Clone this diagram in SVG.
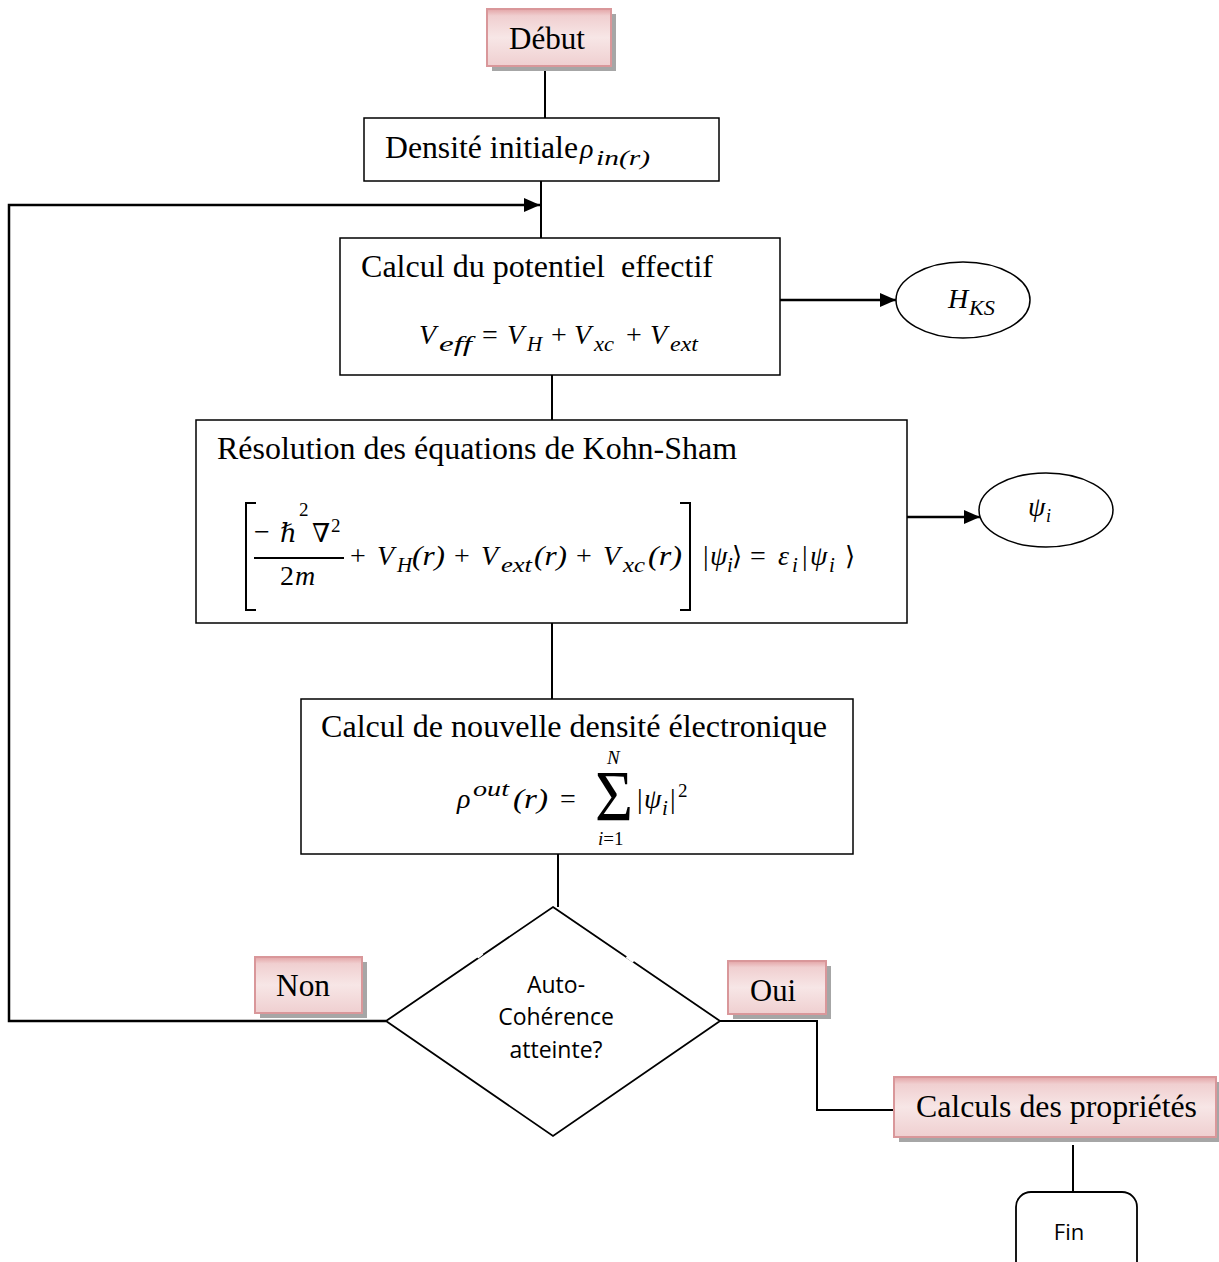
<svg xmlns="http://www.w3.org/2000/svg" width="1219" height="1262" viewBox="0 0 1219 1262">
<defs>
<linearGradient id="pink" x1="0" y1="0" x2="0" y2="1">
<stop offset="0" stop-color="#e3a4a6"/>
<stop offset="0.12" stop-color="#f0cfd0"/>
<stop offset="0.5" stop-color="#f7e6e6"/>
<stop offset="1" stop-color="#efcfd0"/>
</linearGradient>
<marker id="arr" viewBox="0 0 16 14" refX="16" refY="7" markerWidth="16" markerHeight="14" markerUnits="userSpaceOnUse" orient="auto">
<path d="M0,0 L16,7 L0,14 z" fill="#000"/>
</marker>
</defs>
<style>
.box{fill:#fff;stroke:#000;stroke-width:1.5}
.pk{fill:url(#pink);stroke:#d9979a;stroke-width:2}
.sh{fill:#a6a6a6}
.ln{fill:none;stroke:#000;stroke-width:2}
.t{font-family:"Liberation Serif","Times New Roman",serif;font-size:31px;fill:#000}
.m{font-family:"Liberation Serif","Times New Roman",serif;font-style:italic;font-size:28px;fill:#000}
.mr{font-family:"Liberation Serif","Times New Roman",serif;font-size:28px;fill:#000}
.sb{font-family:"Liberation Serif","Times New Roman",serif;font-style:italic;font-size:21px;fill:#000}
.sy{font-family:"DejaVu Serif","Liberation Serif",serif;font-size:26px;fill:#000}
.s{font-family:"Open Sans","Liberation Sans",sans-serif;font-size:23px;fill:#000}
</style>
<g id="connectors">
<path class="ln" d="M545,66 V118"/>
<path class="ln" d="M541,181 V238"/>
<path class="ln" d="M386,1021 H9 V205 H540" marker-end="url(#arr)" style="stroke-width:2.5"/>
<path class="ln" d="M780,300 H896" marker-end="url(#arr)" style="stroke-width:2.5"/>
<path class="ln" d="M552,375 V420"/>
<path class="ln" d="M907,517 H980" marker-end="url(#arr)" style="stroke-width:2.5"/>
<path class="ln" d="M552,623 V699"/>
<path class="ln" d="M558,854 V907"/>
<path class="ln" d="M720,1021 H817 V1110 H895"/>
<path class="ln" d="M1073,1145 V1192"/>
</g>
<g id="debut">
<rect class="sh" x="492" y="14" width="124" height="57"/>
<rect class="pk" x="487" y="9" width="124" height="57"/>
<text class="t" x="509" y="49" textLength="76" lengthAdjust="spacingAndGlyphs">Début</text>
</g>
<g id="densite">
<rect class="box" x="364" y="118" width="355" height="63"/>
<text class="t" x="385" y="158" textLength="193" lengthAdjust="spacingAndGlyphs">Densité initiale</text>
<text class="m" x="580" y="158">ρ</text>
<text class="sb" x="596" y="165" textLength="54" lengthAdjust="spacingAndGlyphs">in(r)</text>
</g>
<g id="potentiel">
<rect class="box" x="340" y="238" width="440" height="137"/>
<text class="t" x="361" y="277" textLength="352" lengthAdjust="spacingAndGlyphs" xml:space="preserve">Calcul du potentiel  effectif</text>
<text class="m" x="419" y="344">V</text>
<text class="sb" x="439" y="351" textLength="33" lengthAdjust="spacingAndGlyphs">eff</text>
<text class="mr" x="482" y="344">=</text>
<text class="m" x="507" y="344">V</text>
<text class="sb" x="527" y="351">H</text>
<text class="mr" x="551" y="344">+</text>
<text class="m" x="574" y="344">V</text>
<text class="sb" x="594" y="351" textLength="20" lengthAdjust="spacingAndGlyphs">xc</text>
<text class="mr" x="626" y="344">+</text>
<text class="m" x="650" y="344">V</text>
<text class="sb" x="670" y="351" textLength="28" lengthAdjust="spacingAndGlyphs">ext</text>
</g>
<g id="hks">
<ellipse cx="963" cy="300" rx="67" ry="38" fill="#fff" stroke="#000" stroke-width="1.5"/>
<text class="m" x="948" y="308">H</text>
<text class="sb" x="969" y="315" textLength="26" lengthAdjust="spacingAndGlyphs">KS</text>
</g>
<g id="kohnsham">
<rect class="box" x="196" y="420" width="711" height="203"/>
<text class="t" x="217" y="459" textLength="520" lengthAdjust="spacingAndGlyphs">Résolution des équations de Kohn-Sham</text>
<path class="ln" d="M256,503 H246 V610 H256"/>
<path class="ln" d="M680,503 H690 V610 H680"/>
<path d="M254,558 H344" stroke="#000" stroke-width="1.8"/>
<text class="mr" x="254" y="541">−</text>
<text class="sy" x="280" y="542" style="font-style:italic">ℏ</text>
<text class="mr" x="299" y="516" style="font-size:19px">2</text>
<text class="sy" x="312" y="542">∇</text>
<text class="mr" x="331" y="532" style="font-size:19px">2</text>
<text class="mr" x="280" y="585">2</text>
<text class="m" x="295" y="585">m</text>
<text class="mr" x="350" y="565">+</text>
<text class="m" x="377" y="565">V</text>
<text class="sb" x="397" y="572">H</text>
<text class="m" x="412" y="565" textLength="33" lengthAdjust="spacingAndGlyphs">(r)</text>
<text class="mr" x="454" y="565">+</text>
<text class="m" x="481" y="565">V</text>
<text class="sb" x="501" y="572" textLength="31" lengthAdjust="spacingAndGlyphs">ext</text>
<text class="m" x="534" y="565" textLength="33" lengthAdjust="spacingAndGlyphs">(r)</text>
<text class="mr" x="576" y="565">+</text>
<text class="m" x="603" y="565">V</text>
<text class="sb" x="623" y="572" textLength="22" lengthAdjust="spacingAndGlyphs">xc</text>
<text class="m" x="648" y="565" textLength="34" lengthAdjust="spacingAndGlyphs">(r)</text>
<text class="mr" x="703" y="565">|</text>
<text class="m" x="710" y="565">ψ</text>
<text class="sb" x="727" y="572">i</text>
<text class="sy" x="732" y="565">⟩</text>
<text class="mr" x="750" y="565">=</text>
<text class="m" x="778" y="565">ε</text>
<text class="sb" x="792" y="572">i</text>
<text class="mr" x="802" y="565">|</text>
<text class="m" x="810" y="565">ψ</text>
<text class="sb" x="829" y="572">i</text>
<text class="sy" x="845" y="565">⟩</text>
</g>
<g id="psi">
<ellipse cx="1046" cy="510" rx="67" ry="37" fill="#fff" stroke="#000" stroke-width="1.5"/>
<text class="m" x="1028" y="516">ψ</text>
<text class="sb" x="1046" y="522" style="font-size:18px">i</text>
</g>
<g id="nouvelle">
<rect class="box" x="301" y="699" width="552" height="155"/>
<text class="t" x="321" y="737" textLength="506" lengthAdjust="spacingAndGlyphs">Calcul de nouvelle densité électronique</text>
<text class="m" x="457" y="808">ρ</text>
<text class="sb" x="473" y="796" textLength="36" lengthAdjust="spacingAndGlyphs">out</text>
<text class="m" x="513" y="808" textLength="35" lengthAdjust="spacingAndGlyphs">(r)</text>
<text class="mr" x="560" y="808">=</text>
<text class="mr" x="595" y="820" style="font-size:72px" textLength="38" lengthAdjust="spacingAndGlyphs">Σ</text>
<text class="sb" x="607" y="764" style="font-size:19px">N</text>
<text class="sb" x="598" y="845" style="font-size:19px">i<tspan style="font-style:normal">=1</tspan></text>
<text class="mr" x="637" y="808">|</text>
<text class="m" x="644" y="808">ψ</text>
<text class="sb" x="662" y="815">i</text>
<text class="mr" x="670" y="808">|</text>
<text class="mr" x="678" y="797" style="font-size:19px">2</text>
</g>
<g id="decision">
<polygon points="553,907 720,1021 553,1136 386,1021" fill="#fff" stroke="#000" stroke-width="1.8"/>
<path d="M477,957 L482,953 M627,956 L634,961" stroke="#fff" stroke-width="4"/>
<text class="s" x="556" y="993" text-anchor="middle">Auto-</text>
<text class="s" x="556" y="1025" text-anchor="middle">Cohérence</text>
<text class="s" x="556" y="1058" text-anchor="middle">atteinte?</text>
</g>
<g id="non">
<rect class="sh" x="260" y="962" width="107" height="56"/>
<rect class="pk" x="255" y="957" width="107" height="56"/>
<text class="t" x="276" y="996" textLength="54" lengthAdjust="spacingAndGlyphs">Non</text>
</g>
<g id="oui">
<rect class="sh" x="733" y="966" width="98" height="53"/>
<rect class="pk" x="728" y="961" width="98" height="53"/>
<text class="t" x="750" y="1001" textLength="46" lengthAdjust="spacingAndGlyphs">Oui</text>
</g>
<g id="calculs">
<rect class="sh" x="899" y="1082" width="322" height="60"/>
<rect class="pk" x="894" y="1077" width="322" height="60"/>
<text class="t" x="916" y="1117" textLength="281" lengthAdjust="spacingAndGlyphs">Calculs des propriétés</text>
</g>
<g id="fin">
<rect x="1016" y="1192" width="121" height="90" rx="15" fill="#fff" stroke="#000" stroke-width="1.8"/>
<text class="s" x="1069" y="1240" text-anchor="middle" style="font-size:22px">Fin</text>
</g>
</svg>
